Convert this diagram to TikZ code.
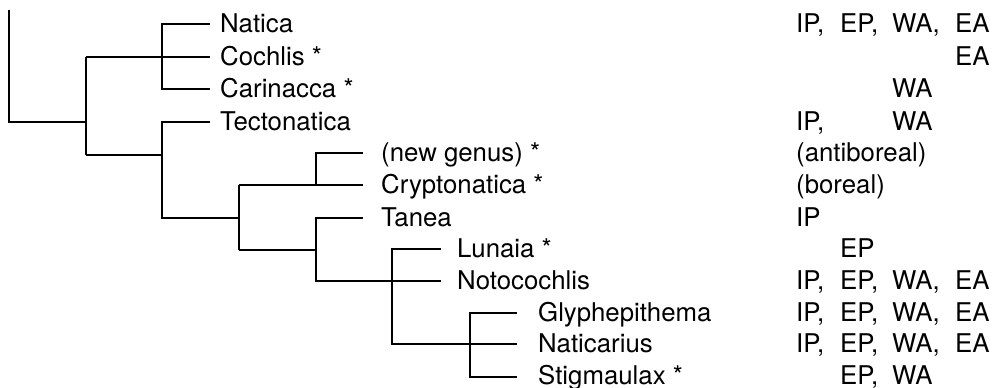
\documentclass[tikz,border=0pt]{standalone}
\usepackage{fontspec}
\setmainfont{TeX Gyre Heros}
\newcommand\distcols[4]{\makebox[44pt][l]{#1}\makebox[52pt][l]{#2}\makebox[63pt][l]{#3}#4}
\begin{document}
\begin{tikzpicture}[x=1pt,y=-1pt,
  lbl/.style={anchor=base west,inner sep=0pt,font=\fontsize{25.8}{30}\selectfont},
  branch/.style={draw,line width=1.8pt}]
\useasboundingbox (0,0) rectangle (993,388);
% labels
\node[lbl] (natica) at (220,32.5) {Natica};
\node[lbl] (cochlis) at (220,65.5) {Cochlis *};
\node[lbl] (carin) at (220,97.5) {Carinacca *};
\node[lbl] (tecto) at (220,130.5) {Tectonatica};
\node[lbl] (ngen) at (381,161.5) {(new genus) *};
\node[lbl] (crypto) at (381,193.5) {Cryptonatica *};
\node[lbl] (tanea) at (381,226.5) {Tanea};
\node[lbl] (lunaia) at (457,257.5) {Lunaia *};
\node[lbl] (noto) at (457,289.5) {Notocochlis};
\node[lbl] (glyph) at (538,321.5) {Glyphepithema};
\node[lbl] (naticar) at (538,352.5) {Naticarius};
\node[lbl] (stig) at (538,384) {Stigmaulax *};
% distributions
\node[lbl] (d1) at (796,32.5) {\distcols{IP,}{EP,}{WA,}{EA}};
\node[lbl] (d2) at (796,65.5) {\distcols{}{}{}{EA}};
\node[lbl] (d3) at (796,97.5) {\distcols{}{}{WA}{}};
\node[lbl] (d4) at (796,130.5) {\distcols{IP,}{}{WA}{}};
\node[lbl] (d5) at (796,161.5) {(antiboreal)};
\node[lbl] (d6) at (796,193.5) {(boreal)};
\node[lbl] (d7) at (796,226.5) {IP};
\node[lbl] (d8) at (796,257.5) {\distcols{}{EP}{}{}};
\node[lbl] (d9) at (796,289.5) {\distcols{IP,}{EP,}{WA,}{EA}};
\node[lbl] (d10) at (796,321.5) {\distcols{IP,}{EP,}{WA,}{EA}};
\node[lbl] (d11) at (796,352.5) {\distcols{IP,}{EP,}{WA,}{EA}};
\node[lbl] (d12) at (796,384) {\distcols{}{EP,}{WA}{}};
% tree coordinates
\coordinate (r0) at (9,10);
\coordinate (r1) at (9,122);
\coordinate (n1) at (86,122);
\coordinate (n1t) at (86,57);
\coordinate (n1b) at (86,155);
\coordinate (ecoch) at (210,57);
\coordinate (n2t) at (162,24);
\coordinate (n2b) at (162,89);
\coordinate (ena) at (210,24);
\coordinate (ecar) at (210,89);
\coordinate (n3m) at (162,155);
\coordinate (n3t) at (162,122);
\coordinate (n3b) at (162,218);
\coordinate (etec) at (210,122);
\coordinate (n4m) at (239,218);
\coordinate (n4t) at (239,185);
\coordinate (n4b) at (239,250);
\coordinate (ecry) at (363,185);
\coordinate (n5t) at (316,153);
\coordinate (n5b) at (316,185);
\coordinate (engen) at (363,153);
\coordinate (n6m) at (316,250);
\coordinate (n6t) at (316,218);
\coordinate (n6b) at (316,281);
\coordinate (etan) at (363,218);
\coordinate (enoto) at (441,281);
\coordinate (n7t) at (392,249);
\coordinate (n7b) at (392,344);
\coordinate (elun) at (441,249);
\coordinate (enati) at (517,344);
\coordinate (n8t) at (470,313);
\coordinate (n8b) at (470,377);
\coordinate (egly) at (517,313);
\coordinate (esti) at (517,377);
% branches
\path[branch] (r0) -- (r1) -- (n1);
\path[branch] (n1t) -- (n1b);
\path[branch] (n1t) -- (ecoch);
\path[branch] (ena) -- (n2t) -- (n2b) -- (ecar);
\path[branch] (n1b) -- (n3m);
\path[branch] (etec) -- (n3t) -- (n3b) -- (n4m);
\path[branch] (n4t) -- (n4b);
\path[branch] (n4t) -- (ecry);
\path[branch] (engen) -- (n5t) -- (n5b);
\path[branch] (n4b) -- (n6m);
\path[branch] (etan) -- (n6t) -- (n6b) -- (enoto);
\path[branch] (elun) -- (n7t) -- (n7b) -- (enati);
\path[branch] (egly) -- (n8t) -- (n8b) -- (esti);
\end{tikzpicture}
\end{document}
